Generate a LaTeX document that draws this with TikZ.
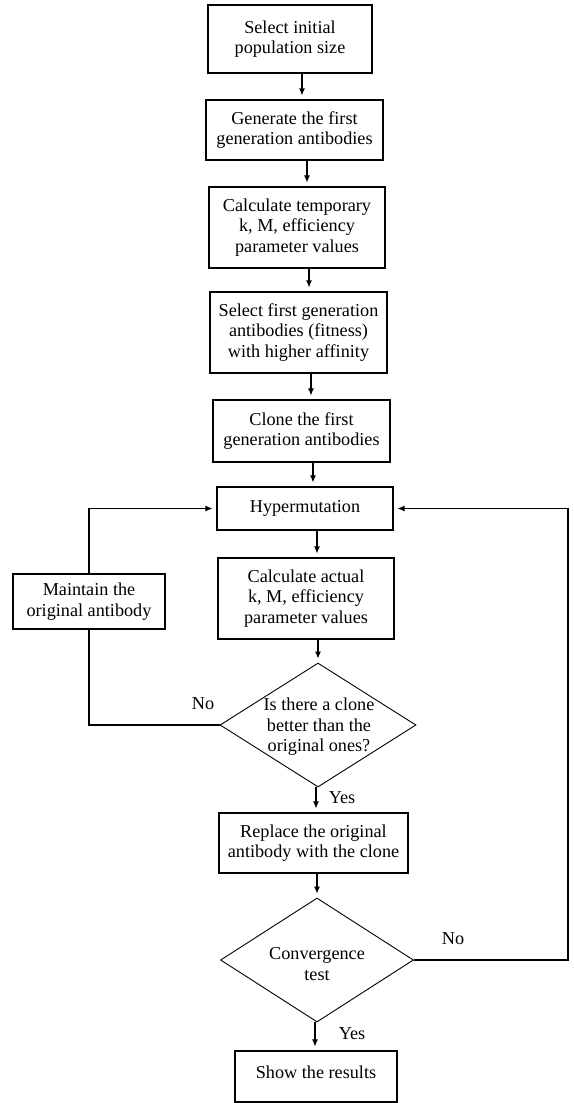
\documentclass[tikz,border=0pt]{standalone}
\usepackage{fontspec}
\setmainfont{Liberation Serif}
\usetikzlibrary{arrows.meta,shapes.geometric}
\begin{document}
\begin{tikzpicture}[x=1pt,y=-1pt,
  txt/.style={font=\fontsize{18.2}{20.5}\selectfont, align=center, inner sep=0pt},
  proc/.style={txt, draw, line width=1.1pt, rectangle},
  dec/.style={draw, line width=0.9pt, diamond, inner sep=0pt},
  arr/.style={line width=1.1pt, -{Latex[length=7pt,width=6pt]}, shorten >=4pt},
  ln/.style={line width=1.1pt}
]
\path[use as bounding box, fill=white] (0,0) rectangle (573,1103);

\node[proc, minimum width=164, minimum height=68] (b1) at (290,39) {Select initial\\population size};
\node[proc, minimum width=177, minimum height=60] (b2) at (294.5,130) {Generate the first\\generation antibodies};
\node[proc, minimum width=176, minimum height=81] (b3) at (297,227.5) {Calculate temporary\\k, M, efficiency\\parameter values};
\node[proc, minimum width=177, minimum height=81] (b4) at (298.5,332.5) {Select first generation\\antibodies (fitness)\\with higher affinity};
\node[proc, minimum width=177, minimum height=62] (b5) at (301.5,431) {Clone the first\\generation antibodies};
\node[proc, minimum width=176, minimum height=43] (h) at (305,508.5) {Hypermutation};
\node[proc, minimum width=176, minimum height=81] (c) at (306,598.5) {Calculate actual\\k, M, efficiency\\parameter values};
\node[proc, minimum width=152, minimum height=55] (m) at (89,601.5) {Maintain the\\original antibody};
\node[dec, minimum width=196, minimum height=124] (d1) at (318,725) {};
\node[txt] (d1t) at (319,727) {Is there a clone\\better than the\\original ones?};
\node[proc, minimum width=189, minimum height=60] (r) at (313.5,843) {Replace the original\\antibody with the clone};
\node[dec, minimum width=193, minimum height=124] (d2) at (317,960) {};
\node[txt] (d2t) at (317,964) {Convergence\\test};
\node[proc, minimum width=162, minimum height=51, text depth=9pt] (s) at (316,1076.5) {Show the results};

\node[txt] (no1) at (203,704) {No};
\node[txt] (yes1) at (342,798) {Yes};
\node[txt] (no2) at (453,939) {No};
\node[txt] (yes2) at (352,1034) {Yes};

\coordinate (x1) at (302,0);
\coordinate (x2) at (307,0);
\coordinate (x3) at (309,0);
\coordinate (x4) at (311,0);
\coordinate (x5) at (313,0);
\coordinate (x6) at (317,0);
\coordinate (x8) at (316,0);
\coordinate (x10) at (315,0);
\coordinate (rc) at (568,960);

\draw[arr] (b1.south -| x1) -- (b2.north -| x1);
\draw[arr] (b2.south -| x2) -- (b3.north -| x2);
\draw[arr] (b3.south -| x3) -- (b4.north -| x3);
\draw[arr] (b4.south -| x4) -- (b5.north -| x4);
\draw[arr] (b5.south -| x5) -- (h.north -| x5);
\draw[arr] (h.south -| x6) -- (c.north -| x6);
\draw[arr] (c.south -| d1.north) -- (d1.north);
\draw[arr] (d1.south -| x8) -- (r.north -| x8);
\draw[arr] (r.south -| d2.north) -- (d2.north);
\draw[arr] (d2.south -| x10) -- (s.north -| x10);

\draw[ln] (d1.west) -| (m.south);
\draw[arr] (m.north) |- (h.west);
\draw[arr] (d2.east) -- (rc) |- (h.east);
\end{tikzpicture}
\end{document}
